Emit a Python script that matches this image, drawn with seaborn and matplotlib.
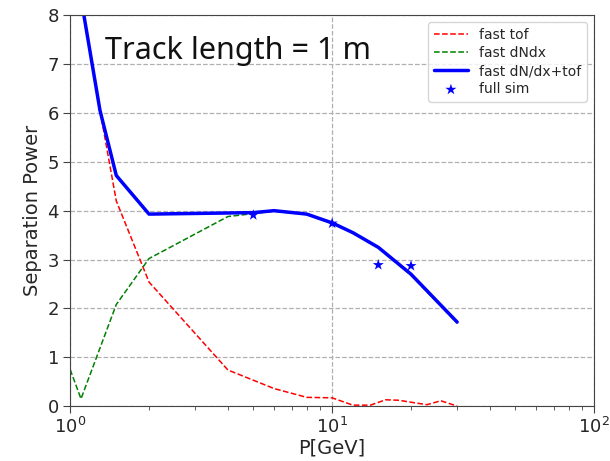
import numpy as np
import pandas as pd
import seaborn as sns
import matplotlib.pyplot as plt

# momentum points (GeV)
p_tof = [1.0, 1.1, 1.3, 1.5, 2, 4, 6, 8, 10, 12, 14, 16, 18, 20, 23, 26, 30]
sep_tof = [11.0, 8.3, 6.05, 4.2, 2.54, 0.74, 0.36, 0.18, 0.17, 0.02, 0.02, 0.13, 0.12, 0.08, 0.03, 0.11, 0.0]

p_dndx = [1.0, 1.1, 1.5, 2, 4, 5, 6, 8, 10, 12, 15, 20, 30]
sep_dndx = [0.75, 0.15, 2.08, 3.02, 3.88, 3.94, 3.99, 3.92, 3.74, 3.54, 3.24, 2.68, 1.7]

p_comb = [1.0, 1.1, 1.3, 1.5, 2, 5, 6, 8, 10, 12, 15, 20, 30]
sep_comb = [11.0, 8.35, 6.05, 4.72, 3.93, 3.96, 4.0, 3.93, 3.75, 3.55, 3.25, 2.7, 1.72]

p_full = [5, 10, 15, 20]
sep_full = [3.91, 3.74, 2.89, 2.87]

sns.set_style("whitegrid", {
    "axes.edgecolor": "#444444",
    "grid.color": "#b0b0b0",
    "grid.linestyle": "--",
    "xtick.bottom": True,
    "ytick.left": True,
})
plt.rcParams['font.family'] = ['DejaVu Sans']

fig, ax = plt.subplots(figsize=(6.1, 4.61), dpi=100)
fig.subplots_adjust(left=0.115, right=0.974, top=0.967, bottom=0.119)

df_tof = pd.DataFrame({"p": p_tof, "sep": sep_tof})
df_dndx = pd.DataFrame({"p": p_dndx, "sep": sep_dndx})
df_comb = pd.DataFrame({"p": p_comb, "sep": sep_comb})
df_full = pd.DataFrame({"p": p_full, "sep": sep_full})

sns.lineplot(data=df_tof, x="p", y="sep", ax=ax, color="red", linestyle="--",
             linewidth=1.1, label="fast tof", sort=False)
sns.lineplot(data=df_dndx, x="p", y="sep", ax=ax, color="green", linestyle="--",
             linewidth=1.1, label="fast dNdx", sort=False)
sns.lineplot(data=df_comb, x="p", y="sep", ax=ax, color="blue", linewidth=2.5,
             label="fast dN/dx+tof", sort=False)
sns.scatterplot(data=df_full, x="p", y="sep", ax=ax, color="blue", marker="*",
                s=70, edgecolor="none", label="full sim", zorder=5)

ax.set_xscale("log")
ax.set_xlim(1, 100)
ax.set_ylim(0, 8)
ax.grid(True, which="major", linestyle="--", color="#b0b0b0", linewidth=0.9)
ax.tick_params(axis="both", which="major", labelsize=13, length=5, pad=3, color="#444444")
ax.tick_params(axis="x", which="minor", length=3, color="#444444", bottom=True)
ax.set_xlabel("P[GeV]", fontsize=14, labelpad=1)
ax.set_ylabel("Separation Power", fontsize=14)

ax.text(1.36, 7.1, "Track length = 1 m", fontsize=22,
        family=["Noto Sans", "DejaVu Sans"], color="#111111")

leg = ax.legend(loc="upper right", fontsize=10, frameon=True, handlelength=2.5,
                borderpad=0.4, labelspacing=0.3)
leg.get_frame().set_edgecolor("#cccccc")

plt.savefig("out.png", dpi=100)
plt.close()
